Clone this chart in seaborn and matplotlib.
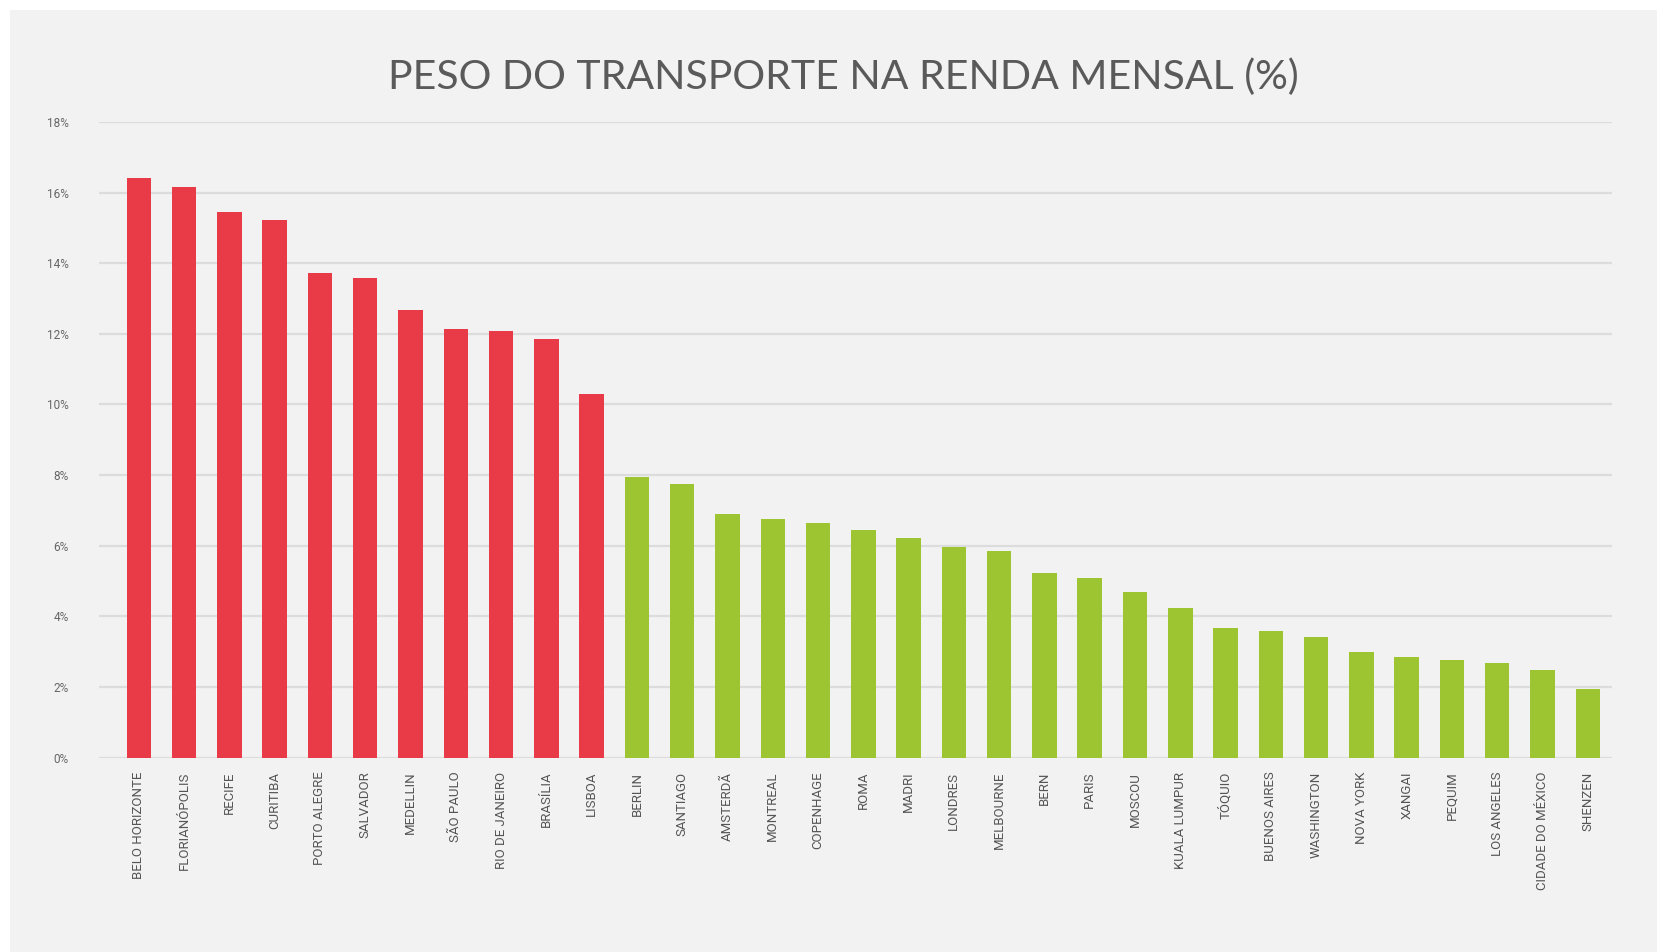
import pandas as pd
import matplotlib.pyplot as plt
import seaborn as sns
from matplotlib.patches import Rectangle
from matplotlib.ticker import FuncFormatter

sns.set_style("white")

# dados
cidades = [
    "BELO HORIZONTE", "FLORIANÓPOLIS", "RECIFE", "CURITIBA", "PORTO ALEGRE",
    "SALVADOR", "MEDELLIN", "SÃO PAULO", "RIO DE JANEIRO", "BRASÍLIA", "LISBOA",
    "BERLIN", "SANTIAGO", "AMSTERDÃ", "MONTREAL", "COPENHAGE", "ROMA", "MADRI",
    "LONDRES", "MELBOURNE", "BERN", "PARIS", "MOSCOU", "KUALA LUMPUR", "TÓQUIO",
    "BUENOS AIRES", "WASHINGTON", "NOVA YORK", "XANGAI", "PEQUIM", "LOS ANGELES",
    "CIDADE DO MÉXICO", "SHENZEN",
]
peso = [
    16.4, 16.15, 15.45, 15.22, 13.72, 13.57, 12.68, 12.13, 12.07, 11.85, 10.3,
    7.96, 7.76, 6.9, 6.77, 6.64, 6.46, 6.22, 5.96, 5.86, 5.23, 5.1, 4.69, 4.25,
    3.68, 3.6, 3.43, 3.0, 2.86, 2.77, 2.67, 2.49, 1.94,
]
grupo = ["alto"] * 11 + ["baixo"] * 22
cores = {"alto": "#e83a47", "baixo": "#9dc431"}

df = pd.DataFrame({"cidade": cidades, "peso": peso, "grupo": grupo})

fig = plt.figure(figsize=(16.57, 9.52), dpi=100, facecolor="#f2f2f2")
# faixas brancas na borda superior e esquerda
fig.patches.append(Rectangle((0, 1 - 10 / 952), 1, 10 / 952,
                             transform=fig.transFigure, facecolor="white",
                             edgecolor="none"))
fig.patches.append(Rectangle((0, 0), 10 / 1657, 1,
                             transform=fig.transFigure, facecolor="white",
                             edgecolor="none"))
ax = fig.add_axes([0.060, 0.204, 0.913, 0.668])
ax.set_facecolor("#f2f2f2")

sns.barplot(data=df, x="cidade", y="peso", hue="grupo", palette=cores,
            dodge=False, width=0.54, saturation=1, linewidth=0,
            legend=False, ax=ax, zorder=3)

ax.set_ylim(0, 18)
ax.set_xlim(-0.87, len(cidades) - 1 + 0.54)
ax.set_yticks(range(0, 19, 2))
ax.yaxis.set_major_formatter(FuncFormatter(lambda v, p: f"{int(v)}%"))
ax.grid(axis="y", color="#dcdcdc", linewidth=1.6, zorder=0)
ax.grid(axis="x", visible=False)
ax.set_axisbelow(True)
for s in ax.spines.values():
    s.set_visible(False)

ax.tick_params(axis="x", labelrotation=90, labelsize=9.5, colors="#555555",
               length=0, pad=10)
ax.tick_params(axis="y", labelsize=8.5, colors="#666666", length=0, pad=22)
for lab in ax.get_xticklabels() + ax.get_yticklabels():
    lab.set_fontfamily(["Liberation Sans Narrow", "Roboto", "DejaVu Sans"])
ax.set_xlabel("")
ax.set_ylabel("")

fig.text(0.509, 0.919, "PESO DO TRANSPORTE NA RENDA MENSAL (%)",
         ha="center", va="center", fontsize=29.5, color="#5a5a5a",
         family=["Lato", "DejaVu Sans"], fontweight="normal")

plt.savefig("out.png", dpi=100, facecolor=fig.get_facecolor())
